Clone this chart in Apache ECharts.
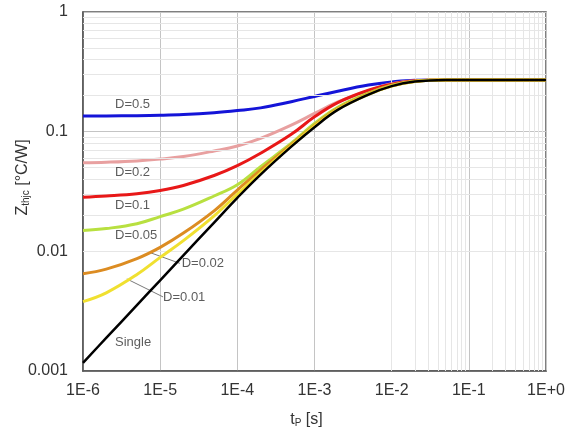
<!DOCTYPE html>
<html>
<head>
<meta charset="utf-8">
<script src="https://cdn.jsdelivr.net/npm/echarts@6/dist/echarts.min.js"></script>
<style>
	html, body { margin: 0; padding: 0; background: #fff; }
	#chart { width: 584px; height: 435px; }
</style>
</head>
<body>
<div id="chart"></div>
<script>
	// pulse width tP [s]
	var tpValues = [1e-6, 2e-6, 5e-6, 1e-5, 2e-5, 5e-5, 1e-4, 2e-4, 5e-4, 1e-3, 2e-3, 5e-3, 1e-2, 2e-2, 5e-2, 1e-1, 1];

	// Zthjc [°C/W] per duty cycle
	var zD05 = [0.135, 0.1355, 0.136, 0.137, 0.139, 0.144, 0.150, 0.158, 0.178, 0.197, 0.218, 0.245, 0.260, 0.269, 0.270, 0.270, 0.270];
	var zD02 = [0.055, 0.0556, 0.057, 0.059, 0.062, 0.069, 0.076, 0.088, 0.1135, 0.142, 0.177, 0.220, 0.251, 0.267, 0.270, 0.270, 0.270];
	var zD01 = [0.0283, 0.029, 0.0303, 0.0322, 0.0355, 0.043, 0.052, 0.066, 0.095, 0.133, 0.175, 0.222, 0.249, 0.266, 0.270, 0.270, 0.270];
	var zD005 = [0.0149, 0.0155, 0.017, 0.0195, 0.0225, 0.029, 0.036, 0.051, 0.080, 0.117, 0.160, 0.210, 0.244, 0.264, 0.270, 0.270, 0.270];
	var zD002 = [0.0065, 0.0071, 0.0087, 0.0108, 0.0142, 0.0218, 0.0325, 0.048, 0.078, 0.113, 0.156, 0.207, 0.242, 0.263, 0.270, 0.270, 0.270];
	var zD001 = [0.0038, 0.0045, 0.0064, 0.0089, 0.0123, 0.0198, 0.030, 0.045, 0.076, 0.111, 0.154, 0.205, 0.241, 0.263, 0.270, 0.270, 0.270];
	var zSingle = [0.00117, 0.00189, 0.00355, 0.00573, 0.00925, 0.0174, 0.028, 0.0438, 0.075, 0.109, 0.152, 0.204, 0.240, 0.262, 0.270, 0.270, 0.270];

	var seriesNames = ['D=0.5', 'D=0.2', 'D=0.1', 'D=0.05', 'D=0.02', 'D=0.01', 'Single'];
	var seriesColors = ['#1414d8', '#e8a0a0', '#e81818', '#b8e040', '#dc8c22', '#f0e030', '#000000'];

	// curve labels: [tP, Z, text]
	var curveLabels = [
		[2.6e-6, 0.17, 'D=0.5'],
		[2.6e-6, 0.046, 'D=0.2'],
		[2.6e-6, 0.0244, 'D=0.1'],
		[2.6e-6, 0.0137, 'D=0.05'],
		[1.9e-5, 0.008, 'D=0.02'],
		[1.09e-5, 0.0041, 'D=0.01'],
		[2.6e-6, 0.00172, 'Single']
	];
	// leader lines for D=0.02 and D=0.01
	var leader002 = [[6.95e-6, 0.0099], [1.8e-5, 0.00794]];
	var leader001 = [[3.7e-6, 0.00588], [1.09e-5, 0.00416]];

	var allZ = [zD05, zD02, zD01, zD005, zD002, zD001, zSingle];

	function pairs(ys) {
		var list = [];
		for (var i = 0; i < tpValues.length; i++) {
			list.push([tpValues[i], ys[i]]);
		}
		return list;
	}

	// log minor grid positions (2..9 per decade)
	var minorX = [], minorY = [];
	for (var e = -6; e < 0; e++) {
		for (var m = 2; m <= 9; m++) {
			minorX.push({ xAxis: m * Math.pow(10, e) });
		}
	}
	for (var e2 = -3; e2 < 0; e2++) {
		for (var m2 = 2; m2 <= 9; m2++) {
			minorY.push({ yAxis: m2 * Math.pow(10, e2) });
		}
	}

	var font = '"Liberation Sans", Arial, sans-serif';

	var series = [
		{
			type: 'line',
			data: [],
			silent: true,
			markLine: {
				silent: true,
				symbol: 'none',
				label: { show: false },
				lineStyle: { color: '#e6e6e6', width: 1, type: 'solid' },
				data: minorX.concat(minorY)
			},
			z: 1
		}
	];
	for (var k = 0; k < allZ.length; k++) {
		series.push({
			name: seriesNames[k],
			type: 'line',
			data: pairs(allZ[k]),
			smooth: 0.4,
			showSymbol: false,
			lineStyle: { color: seriesColors[k], width: k === 6 ? 2.5 : 3 },
			z: 3 + k
		});
	}
	series.push({
		type: 'line', data: leader002, showSymbol: false,
		lineStyle: { color: '#7a7a7a', width: 1 }, z: 2
	});
	series.push({
		type: 'line', data: leader001, showSymbol: false,
		lineStyle: { color: '#7a7a7a', width: 1 }, z: 2
	});
	series.push({
		type: 'scatter',
		symbolSize: 0,
		data: curveLabels.map(function (d) { return { value: [d[0], d[1]], name: d[2] }; }),
		label: {
			show: true,
			position: 'right',
			distance: 0,
			formatter: '{b}',
			color: '#333',
			fontSize: 13,
			fontFamily: font
		},
		z: 20
	});

	var option = {
		animation: false,
		backgroundColor: '#fff',
		grid: {
			left: 83, right: 38, top: 12, bottom: 64,
			outerBoundsMode: 'none',
			containLabel: false,
			show: true,
			borderColor: '#555',
			borderWidth: 1.5
		},
		xAxis: {
			type: 'log',
			logBase: 10,
			min: 1e-6,
			max: 1,
			name: '{a|t}{b|P}{a| [s]}',
			nameLocation: 'middle',
			nameGap: 41,
			nameMoveOverlap: false,
			nameTextStyle: {
				padding: [0, 16, 0, 0],
				rich: {
					a: { fontSize: 16, color: '#333', fontFamily: font },
					b: { fontSize: 10, color: '#333', fontFamily: font, verticalAlign: 'bottom', padding: [6, 0, 0, 0] }
				}
			},
			axisLine: { show: true, lineStyle: { color: '#555', width: 1.5 } },
			axisTick: { show: false },
			axisLabel: {
				margin: 12,
				fontSize: 16,
				color: '#333',
				fontFamily: font,
				formatter: function (v) {
					var p = Math.round(Math.log10(v));
					return '1E' + (p >= 0 ? '+' : '') + p;
				}
			},
			splitLine: { show: true, lineStyle: { color: '#c4c4c4', width: 1 } }
		},
		yAxis: {
			type: 'log',
			logBase: 10,
			min: 0.001,
			max: 1,
			name: '{a|Z}{b|thjc}{a| [°C/W]}',
			nameLocation: 'middle',
			nameGap: 52,
			nameMoveOverlap: false,
			nameTextStyle: {
				padding: [0, 0, 0, 28],
				rich: {
					a: { fontSize: 16, color: '#333', fontFamily: font },
					b: { fontSize: 10, color: '#333', fontFamily: font, verticalAlign: 'bottom', padding: [6, 0, 0, 0] }
				}
			},
			axisLine: { show: true, lineStyle: { color: '#555', width: 1.5 } },
			axisTick: { show: false },
			axisLabel: {
				margin: 15,
				fontSize: 16,
				color: '#333',
				fontFamily: font,
				formatter: function (v) {
					return String(parseFloat(v.toPrecision(3)));
				}
			},
			splitLine: { show: true, lineStyle: { color: '#c4c4c4', width: 1 } }
		},
		series: series
	};

	var chart = echarts.init(document.getElementById('chart'));
	chart.setOption(option);
</script>
</body>
</html>
